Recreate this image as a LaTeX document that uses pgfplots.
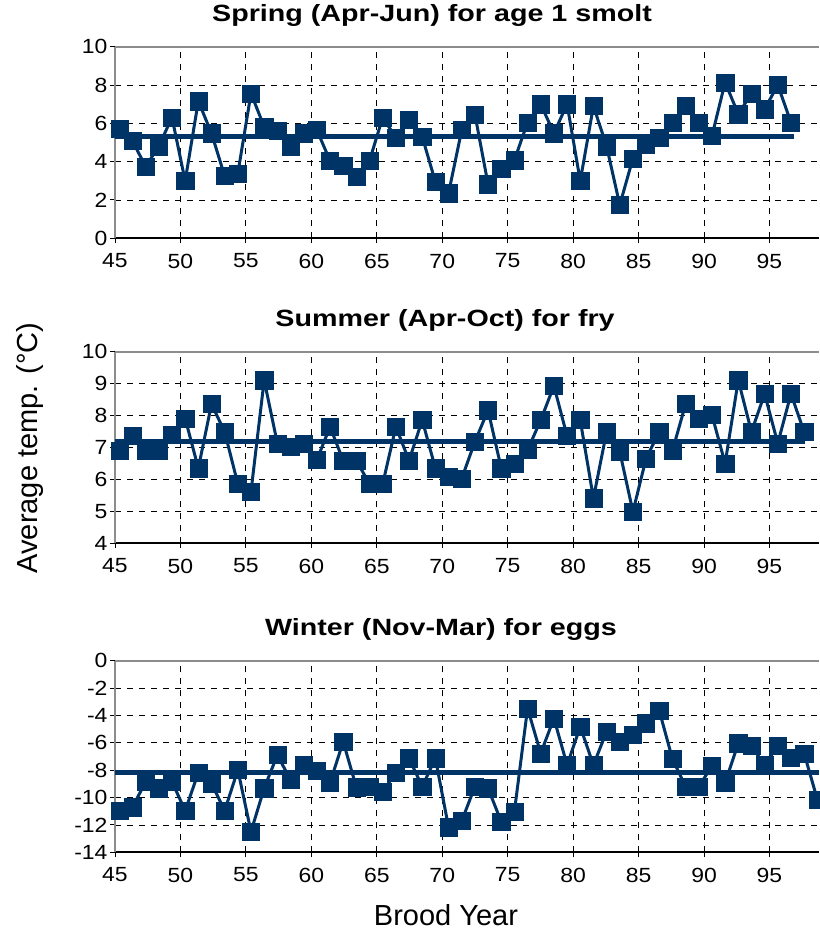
\documentclass[border=0pt]{standalone}
\usepackage{fontspec}
\setmainfont{Liberation Sans}
% horizontally widened faces for titles and tick labels
\newfontfamily\widefont{Liberation Sans}[FakeStretch=1.22]
\newfontfamily\tickfont{Liberation Sans}[FakeStretch=1.12]
\usepackage{pgfplots}
\pgfplotsset{compat=1.18}

\definecolor{navy}{RGB}{0,51,102}

% Spring water temperature, brood years 1945-1996
\pgfplotstableread{
year temp
45 5.74
46 5.08
47 3.74
48 4.81
49 6.31
50 2.99
51 7.16
52 5.48
53 3.25
54 3.39
55 7.56
56 5.82
57 5.61
58 4.81
59 5.48
60 5.65
61 4.05
62 3.79
63 3.21
64 4.05
65 6.31
66 5.25
67 6.17
68 5.30
69 2.95
70 2.35
71 5.65
72 6.47
73 2.82
74 3.65
75 4.08
76 6.05
77 7.00
78 5.48
79 7.00
80 2.99
81 6.90
82 4.81
83 1.74
84 4.17
85 4.87
86 5.25
87 6.05
88 6.90
89 6.05
90 5.34
91 8.14
92 6.48
93 7.56
94 6.74
95 8.00
96 6.05
}\spring

% Summer water temperature, brood years 1945-1997
\pgfplotstableread{
year temp
45 6.90
46 7.36
47 6.90
48 6.90
49 7.39
50 7.91
51 6.35
52 8.36
53 7.49
54 5.86
55 5.62
56 9.11
57 7.13
58 7.02
59 7.11
60 6.61
61 7.65
62 6.59
63 6.59
64 5.86
65 5.86
66 7.65
67 6.59
68 7.86
69 6.35
70 6.09
71 6.03
72 7.18
73 8.17
74 6.35
75 6.50
76 6.92
77 7.86
78 8.93
79 7.36
80 7.86
81 5.41
82 7.49
83 6.87
84 4.99
85 6.66
86 7.49
87 6.90
88 8.36
89 7.91
90 8.02
91 6.50
92 9.11
93 7.49
94 8.68
95 7.13
96 8.68
97 7.49
}\summer

% Winter air temperature, brood years 1945-1998
\pgfplotstableread{
year temp
45 -10.96
46 -10.71
47 -8.84
48 -9.32
49 -8.84
50 -10.96
51 -8.18
52 -8.96
53 -10.96
54 -7.98
55 -12.49
56 -9.32
57 -6.89
58 -8.71
59 -7.62
60 -8.06
61 -8.91
62 -5.92
63 -9.25
64 -9.20
65 -9.57
66 -8.18
67 -7.13
68 -9.20
69 -7.13
70 -12.17
71 -11.71
72 -9.20
73 -9.32
74 -11.76
75 -11.03
76 -3.48
77 -6.77
78 -4.21
79 -7.62
80 -4.82
81 -7.62
82 -5.18
83 -5.92
84 -5.43
85 -4.57
86 -3.65
87 -7.18
88 -9.20
89 -9.20
90 -7.69
91 -8.91
92 -6.03
93 -6.23
94 -7.62
95 -6.23
96 -7.06
97 -6.77
98 -10.13
}\winter

\pgfplotsset{
  panel/.style={
    scale only axis, width=704pt, height=191.6pt,
    xmin=44.673, xmax=98.13,
    xtick={44.673,49.643,54.612,59.582,64.552,69.522,74.491,79.461,84.431,89.400,94.370},
    xticklabels={45,50,55,60,65,70,75,80,85,90,95},
    axis x line*=bottom, axis y line*=left,
    grid=major,
    major grid style={black, line width=0.8pt, dash pattern=on 6pt off 6pt},
    tick align=outside, major tick length=5pt,
    tick style={black, line width=1pt},
    x axis line style={black, line width=1.6pt},
    y axis line style={gray!90, line width=2.6pt},
    ticklabel style={font=\tickfont\fontsize{20.5}{21}\selectfont},
    xticklabel style={yshift=-7pt},
    yticklabel style={xshift=1pt},
    /pgf/number format/assume math mode=true,
    clip=false,
    title style={font=\widefont\bfseries\fontsize{23.5}{26}\selectfont, anchor=base, yshift=18.7pt},
  },
  series/.style={navy, line width=3pt, mark=square*, mark size=8.6pt,
    mark options={solid, fill=navy, draw=navy, line width=0.4pt}},
  meanline/.style={navy, line width=5pt, no marks},
}

\begin{document}
\begin{tikzpicture}[x=1pt,y=1pt]
\path[use as bounding box] (0,0) rectangle (819,934);

\begin{axis}[panel, at={(115pt,695.7pt)}, anchor=south west,
  ymin=0, ymax=10, ytick={0,2,4,6,8,10},
  title={Spring (Apr-Jun) for age 1 smolt}, title style={at={(0.4503,1)}}]
  \draw[gray!90, line width=2pt] (rel axis cs:0,1) -- (rel axis cs:1,1);
  \addplot[meanline] coordinates {(44.7,5.30) (96.2,5.30)};
  \addplot[series] table[x=year, y=temp] {\spring};
\end{axis}

\begin{axis}[panel, at={(115pt,390.7pt)}, anchor=south west,
  ymin=4, ymax=10, ytick={4,5,6,7,8,9,10},
  title={Summer (Apr-Oct) for fry}, title style={at={(0.4688,1)}}]
  \draw[gray!90, line width=2pt] (rel axis cs:0,1) -- (rel axis cs:1,1);
  \addplot[meanline] coordinates {(44.7,7.18) (97.1,7.18)};
  \addplot[series] table[x=year, y=temp] {\summer};
\end{axis}

\begin{axis}[panel, at={(115pt,81.7pt)}, anchor=south west,
  ymin=-14, ymax=0, ytick={-14,-12,-10,-8,-6,-4,-2,0},
  title={Winter (Nov-Mar) for eggs}, title style={at={(0.463,1)}}]
  \draw[gray!90, line width=2pt] (rel axis cs:0,1) -- (rel axis cs:1,1);
  \addplot[meanline] coordinates {(44.7,-8.18) (98.13,-8.18)};
  \addplot[series] table[x=year, y=temp] {\winter};
\end{axis}

\node[rotate=90, font=\fontsize{29}{32}\selectfont] at (30,486) {Average temp. (°C)};
\node[font=\fontsize{29}{32}\selectfont] at (446,19) {Brood Year};
\end{tikzpicture}
\end{document}
